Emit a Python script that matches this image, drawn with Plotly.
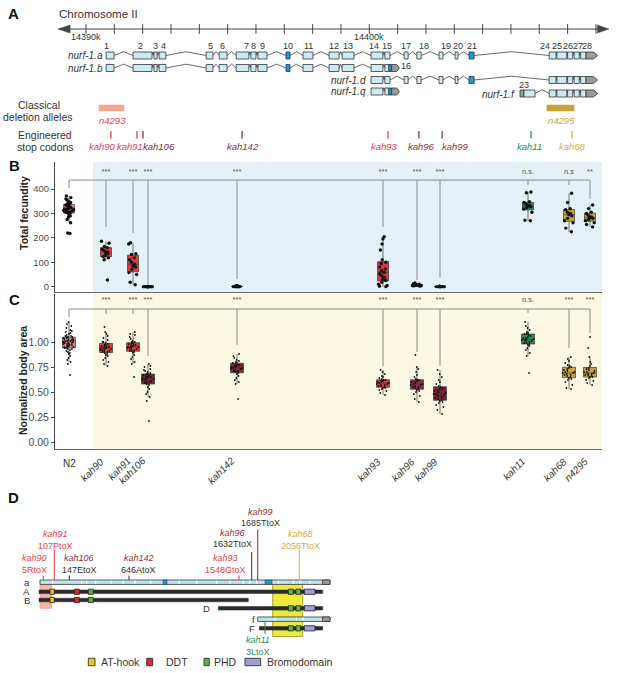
import plotly.graph_objects as go

FONT = "Liberation Sans, Arial, Helvetica, sans-serif"
DARK = "#333333"
RED = "#e8414a"
MAROON = "#8b3344"
DKMAROON = "#6b2a3a"
GOLD = "#d2ad45"
GREEN = "#2e8b57"
LIGHT = "#cdeaf2"
TEAL = "#1b9ad0"
GREY = "#9a9a9a"

# ======================= DATA =======================
# ---- Panel B / C : strains ----
strains = ["N2", "kah90", "kah91", "kah106", "kah142", "kah93", "kah96", "kah99", "kah11", "kah68", "n4295"]
strain_pos = [69, 106, 133, 148, 237, 383, 417, 440, 528, 569, 590]   # track position along gene
strain_fill = ["#e58a7f", "#e8393a", "#e63a3c", "#7b2232", "#7d2a3a", "#e5304a",
               "#8c3246", "#7a2035", "#2e8b57", "#d2a535", "#c4a33a"]

fec_N2 = [218, 220, 262, 275, 285, 290, 296, 300, 303, 305, 306, 308, 310, 312, 314, 316,
          318, 318, 320, 322, 325, 328, 331, 335, 338, 342, 345, 350, 355, 360, 365, 372]
fec_kah90 = [27, 110, 118, 123, 128, 135, 140, 142, 148, 152, 160, 165, 178, 186]
fec_kah91 = [8, 18, 50, 58, 70, 80, 85, 92, 100, 110, 118, 132, 135, 175, 180]
fec_kah106 = [0, 0, 0, 0, 0, 0, 0, 0, 0, 0, 1, 0, 0, 0, 0]
fec_kah142 = [0, 0, 0, 0, 1, 2, 3, 5, 0, 0, 2, 0, 4, 1]
fec_kah93 = [0, 2, 5, 10, 18, 25, 30, 38, 45, 52, 58, 65, 72, 80, 95, 100, 110, 150, 175, 195, 205]
fec_kah96 = [2, 3, 4, 5, 5, 6, 7, 8, 9, 10, 12, 15, 4, 6, 8]
fec_kah99 = [0, 0, 0, 1, 0, 2, 0, 1, 0, 0, 0, 1]
fec_kah11 = [270, 272, 305, 318, 322, 328, 330, 333, 338, 345, 348, 385, 388]
fec_kah68 = [225, 240, 262, 270, 280, 290, 295, 300, 305, 315, 320, 345, 383]
fec_n4295 = [245, 255, 262, 270, 275, 280, 283, 286, 292, 300, 305, 320, 335]

area_N2 = [0.67, 0.78, 0.80, 0.82, 0.84, 0.86, 0.88, 0.89, 0.90, 0.91, 0.92, 0.93, 0.93, 0.94, 0.94,
           0.95, 0.95, 0.95, 0.96, 0.96, 0.97, 0.97, 0.97, 0.98, 0.98, 0.98, 0.99, 0.99, 0.99, 1.00,
           1.00, 1.00, 1.00, 1.01, 1.01, 1.01, 1.02, 1.02, 1.02, 1.03, 1.03, 1.03, 1.04, 1.04, 1.05,
           1.05, 1.05, 1.06, 1.06, 1.07, 1.08, 1.09, 1.10, 1.11, 1.12, 1.14, 1.16, 1.18, 1.20]
area_kah90 = [0.76, 0.78, 0.80, 0.82, 0.84, 0.86, 0.87, 0.88, 0.89, 0.90, 0.90, 0.91, 0.91, 0.92,
              0.92, 0.93, 0.93, 0.94, 0.94, 0.94, 0.95, 0.95, 0.96, 0.96, 0.97, 0.97, 0.98, 0.99,
              1.00, 1.00, 1.02, 1.04, 1.06, 1.08, 1.10, 1.15]
area_kah91 = [0.65, 0.78, 0.80, 0.83, 0.85, 0.87, 0.89, 0.90, 0.91, 0.91, 0.92, 0.93, 0.93, 0.94,
              0.94, 0.95, 0.95, 0.95, 0.96, 0.96, 0.97, 0.97, 0.98, 0.98, 0.99, 1.00, 1.00, 1.01,
              1.03, 1.05, 1.07, 1.08, 1.10]
area_kah106 = [0.21, 0.41, 0.45, 0.48, 0.50, 0.53, 0.55, 0.57, 0.58, 0.59, 0.60, 0.60, 0.61, 0.62,
               0.62, 0.63, 0.63, 0.64, 0.64, 0.65, 0.65, 0.66, 0.66, 0.67, 0.68, 0.68, 0.69, 0.70,
               0.71, 0.72, 0.73, 0.75, 0.76, 0.78]
area_kah142 = [0.43, 0.58, 0.60, 0.62, 0.64, 0.66, 0.68, 0.69, 0.70, 0.71, 0.71, 0.72, 0.73, 0.73,
               0.74, 0.74, 0.75, 0.75, 0.76, 0.76, 0.77, 0.77, 0.78, 0.79, 0.79, 0.80, 0.81, 0.82,
               0.84, 0.86, 0.88]
area_kah93 = [0.47, 0.49, 0.51, 0.52, 0.53, 0.54, 0.54, 0.55, 0.56, 0.56, 0.57, 0.57, 0.58, 0.58,
              0.59, 0.59, 0.60, 0.60, 0.61, 0.61, 0.62, 0.62, 0.63, 0.64, 0.65, 0.66, 0.68, 0.70, 0.72]
area_kah96 = [0.40, 0.43, 0.46, 0.48, 0.50, 0.51, 0.52, 0.53, 0.54, 0.55, 0.55, 0.56, 0.57, 0.57,
              0.58, 0.58, 0.59, 0.60, 0.60, 0.61, 0.62, 0.62, 0.63, 0.65, 0.67, 0.70, 0.73, 0.75, 0.87]
area_kah99 = [0.28, 0.32, 0.35, 0.37, 0.39, 0.40, 0.41, 0.42, 0.43, 0.44, 0.45, 0.46, 0.47, 0.48,
              0.48, 0.49, 0.50, 0.51, 0.52, 0.53, 0.54, 0.55, 0.56, 0.58, 0.60, 0.62, 0.65, 0.68, 0.72]
area_kah11 = [0.69, 0.86, 0.89, 0.92, 0.94, 0.96, 0.97, 0.98, 0.99, 0.99, 1.00, 1.01, 1.01, 1.02,
              1.02, 1.03, 1.03, 1.04, 1.04, 1.05, 1.06, 1.07, 1.08, 1.08, 1.09, 1.10, 1.12, 1.14,
              1.16, 1.20]
area_kah68 = [0.53, 0.54, 0.57, 0.60, 0.62, 0.63, 0.64, 0.65, 0.66, 0.67, 0.67, 0.68, 0.69, 0.69,
              0.70, 0.70, 0.71, 0.72, 0.73, 0.74, 0.75, 0.76, 0.77, 0.79, 0.81, 0.83, 0.85]
area_n4295 = [0.57, 0.59, 0.61, 0.62, 0.64, 0.65, 0.65, 0.66, 0.67, 0.67, 0.68, 0.68, 0.69, 0.70,
              0.70, 0.71, 0.72, 0.73, 0.74, 0.76, 0.78, 0.80, 0.85, 0.94, 1.05]

fec_sig = ["", "***", "***", "***", "***", "***", "***", "***", "n.s.", "n.s", "**"]
area_sig = ["", "***", "***", "***", "***", "***", "***", "***", "n.s.", "***", "***"]
fec_tip = [404, 245, 220, 7, 32, 245, 27, 36, 417, 417, 360]
area_tip = [1.25, 1.28, 1.28, 0.86, 0.97, 0.76, 0.90, 0.76, 1.29, 0.94, 1.09]
fec_bracket, fec_sig_y = 437, 470
area_bracket, area_sig_y = 1.33, 1.42
fec_ticks = [0, 100, 200, 300, 400]
area_ticks = [0, 0.25, 0.5, 0.75, 1.0]

# ---- Panel A : gene model, kb relative to 14,390 kb ----
chrom_tick_kb = [0, 1, 2, 3, 4, 5, 6, 7, 8, 9, 10, 11, 12, 13, 14, 15, 16, 17, 18]
chrom_label_kb = [0, 10]
chrom_label_txt = ["14390k", "14400k"]
exon_num = [1, 2, 3, 4, 5, 6, 7, 8, 9, 10, 11, 12, 13, 14, 15, 17, 18, 19, 20, 21, 24, 25, 26, 27, 28]
exon_start = [0.71, 1.66, 2.40, 2.58, 4.24, 4.70, 5.30, 5.82, 6.07, 7.06, 7.66, 8.58, 9.04, 10.06,
              10.55, 11.23, 11.68, 12.46, 13.03, 13.52, 16.35, 16.62, 17.00, 17.23, 17.46]
exon_end = [0.99, 2.33, 2.51, 2.82, 4.48, 4.98, 5.75, 6.00, 6.39, 7.20, 8.01, 8.93, 9.46, 10.48,
            10.73, 11.37, 11.83, 12.60, 13.13, 13.70, 16.59, 16.97, 17.18, 17.41, 17.65]
exon_label_kb = [0.71, 1.93, 2.46, 2.73, 4.38, 4.83, 5.65, 5.91, 6.22, 7.14, 7.85, 8.76, 9.26, 10.18,
                 10.64, 11.30, 11.93, 12.70, 13.12, 13.61, 16.20, 16.64, 17.00, 17.36, 17.70]
coding_teal = [10, 21]
utr28 = [17.65, 17.91, 18.06]            # grey 3' UTR start, end, arrow tip
exon15s = [10.55, 10.69, 10.79, 10.97, 11.06]  # light, teal, grey, tip (isoforms b, q)
exon23 = [15.32, 15.46, 15.85]           # grey 5' part then coding
iso_names = ["nurf-1.a", "nurf-1.b", "nurf-1.d", "nurf-1.q", "nurf-1.f"]
iso_row = [55.5, 68, 80, 91.5, 93.5]
iso_label_kb = [0.64, 0.64, 9.92, 9.92, 15.18]
iso_label_row = [55.5, 68, 80, 91.5, 94]
iso_exons = [
    [1, 2, 3, 4, 5, 6, 7, 8, 9, 10, 11, 12, 13, 14, 15, 17, 18, 19, 20, 21, 24, 25, 26, 27, 28],
    [1, 2, 3, 4, 5, 6, 7, 8, 9, 10, 11, 12, 13, 14, "15s"],
    [14, 15, 17, 18, 19, 20, 21, 24, 25, 26, 27, 28],
    [14, "15s"],
    ["23", 24, 25, 26, 27, 28],
]
deletion_names = ["n4293", "n4295"]
deletion_start = [0.46, 16.27]
deletion_end = [1.34, 17.23]
deletion_label_kb = [0.92, 16.77]
deletion_color = ["#f4a593", "#c4a13a"]
deletion_text_color = [RED, "#c8a83a"]
stop_names = ["kah90", "kah91", "kah106", "kah142", "kah93", "kah96", "kah99", "kah11", "kah68"]
stop_kb = [0.88, 1.80, 2.01, 5.51, 10.66, 11.75, 12.57, 15.71, 17.16]
stop_label_kb = [0.58, 1.55, 2.58, 5.54, 10.55, 11.83, 13.03, 15.67, 17.16]
stop_color = [RED, RED, "#8b2a3a", MAROON, RED, MAROON, "#99354a", GREEN, GOLD]

# ---- Panel D : protein diagram (diagram units) ----
protein_rows = ["a", "A", "B", "D", "f", "F"]
row_label_x = [31, 31, 31, 211, 256, 256]
row_y = [582.2, 591.8, 600, 608.3, 619.2, 628.3]
bar_start = [40, 39, 39, 218.3, 257.7, 259.3]
bar_end = [330, 322.7, 248.3, 322.7, 330, 322.7]
bar_kind = ["iso", "prot", "prot", "prot", "iso", "prot"]
iso_grey_start = 322.5
a_dividers = [52.7, 81.7, 86.7, 95.7, 111, 123.3, 135, 150.7, 179.3, 196.7, 216.7, 230,
              243.3, 250, 256.7, 278.3, 293.3, 300, 310]
a_teal = [(163, 167), (265, 272)]
f_dividers = [275, 296.7, 303]
dom_names = ["AT-hook", "DDT", "PHD", "Bromodomain"]
dom_colors = ["#f2c318", "#e8242d", "#5cb447", "#9d9fd6"]
dom_A = [(50, 54.3, 0), (74.3, 79.3, 1), (88.3, 93.3, 2), (288.3, 293.3, 2), (296, 300.7, 2), (304.3, 315, 3)]
dom_B = [(50, 54.3, 0), (74.3, 79.3, 1), (88.3, 93.3, 2)]
dom_D = [(288.3, 293.3, 2), (296, 300.7, 2), (304.3, 315, 3)]
mut_name = ["kah90", "kah91", "kah106", "kah142", "kah93", "kah96", "kah99", "kah68", "kah11"]
mut_change = ["5RtoX", "107PtoX", "147EtoX", "646AtoX", "1548GtoX", "1632TtoX", "1685TtoX", "2056TtoX", "3LtoX"]
mut_stem_x = [43.3, 54.3, 69.3, 129, 239, 251.7, 257.7, 299.3, 265]
mut_stem_y0 = [576, 550, 575.5, 575.5, 575.5, 552, 529.5, 550, 621]
mut_stem_y1 = [580, 580, 580, 580, 580, 580, 580, 580, 634]
mut_label_x = [34.5, 55, 79, 138.5, 225, 232.5, 260, 300, 258]
mut_label_y = [558, 534.3, 558, 558, 558, 533.3, 511.7, 534.3, 640]
mut_line_gap = [12, 12, 12, 12, 12, 10.5, 11.3, 12, 11.5]
mut_name_color = [RED, RED, MAROON, MAROON, RED, MAROON, MAROON, GOLD, GREEN]
mut_change_color = [RED, RED, DARK, DARK, RED, DARK, DARK, GOLD, GREEN]
mut_stem_color = [RED, RED, DKMAROON, DKMAROON, RED, DKMAROON, MAROON, "#d8b84a", GREEN]

# ======================= FIGURE =======================
fig = go.Figure()
shapes, annos = [], []


def rect(xref, x0, x1, y0, y1, fill, line=DARK, lw=0.8, layer="above", yref="y3"):
    shapes.append(dict(type="rect", xref=xref, yref=yref, x0=x0, x1=x1, y0=y0, y1=y1,
                       fillcolor=fill, line=dict(color=line, width=lw), layer=layer))


def path(xref, d, fill, line=DARK, lw=0.8):
    shapes.append(dict(type="path", xref=xref, yref="y3", path=d, fillcolor=fill,
                       line=dict(color=line, width=lw)))


def line(xref, x0, x1, y0, y1, color=DARK, lw=1, yref="y3"):
    shapes.append(dict(type="line", xref=xref, yref=yref, x0=x0, x1=x1, y0=y0, y1=y1,
                       line=dict(color=color, width=lw)))


def text(x, y, s, xref="x4", yref="y3", size=10, color=DARK, xanchor="center", yanchor="middle", angle=0):
    annos.append(dict(x=x, y=y, xref=xref, yref=yref, text=s, showarrow=False, textangle=angle,
                      font=dict(family=FONT, size=size, color=color), xanchor=xanchor,
                      yanchor=yanchor, borderpad=0))


# anchor traces for overlay axes
fig.add_trace(go.Scatter(x=[0], y=[0], xaxis="x3", yaxis="y3", mode="markers",
                         marker=dict(opacity=0), showlegend=False, hoverinfo="skip"))
fig.add_trace(go.Scatter(x=[0], y=[0], xaxis="x4", yaxis="y3", mode="markers",
                         marker=dict(opacity=0), showlegend=False, hoverinfo="skip"))

# ---------------- Panel A ----------------
text(7, 13, "<b>A</b>", size=15, color="#111", xanchor="left")
text(58, 13.5, "Chromosome II", size=11.5, xanchor="left")
line("x3", -0.95, 18.3, 29, 29, color="#444", lw=1.2)
path("x3", "M -0.99,29 L -0.56,25 L -0.56,33 Z", "#444", line="#444", lw=0.5)
path("x3", "M 18.46,29 L 18.05,25 L 18.05,33 Z", "#444", line="#444", lw=0.5)
fig.add_trace(go.Scatter(x=chrom_tick_kb, y=[29] * len(chrom_tick_kb), xaxis="x3", yaxis="y3",
                         mode="markers", marker=dict(symbol="line-ns", size=7,
                                                     line=dict(color="#444", width=1)),
                         showlegend=False, hoverinfo="skip"))
for k, t in zip(chrom_label_kb, chrom_label_txt):
    text(k, 36.5, t, xref="x3", size=9)
for n, lk in zip(exon_num, exon_label_kb):
    text(lk, 45.5, str(n), xref="x3", size=9)

H = 3.5
ex_idx = {n: i for i, n in enumerate(exon_num)}


def exon_extent(e):
    if e == "15s":
        return exon15s[0], exon15s[4]
    if e == "23":
        return exon23[0], exon23[2]
    if e == 28:
        return exon_start[ex_idx[28]], utr28[2]
    i = ex_idx[e]
    return exon_start[i], exon_end[i]


for iso, y, exons in zip(iso_names, iso_row, iso_exons):
    ix, iy = [], []
    for e1, e2 in zip(exons[:-1], exons[1:]):
        a = exon_extent(e1)[1]
        b = exon_extent(e2)[0]
        ix += [a, (a + b) / 2, b, None]
        iy += [y, y - 3.8, y, None]
    fig.add_trace(go.Scatter(x=ix, y=iy, xaxis="x3", yaxis="y3", mode="lines",
                             line=dict(color="#444", width=0.8), showlegend=False, hoverinfo="skip"))
    for e in exons:
        if e == "15s":
            rect("x3", exon15s[0], exon15s[1], y - H, y + H, LIGHT)
            rect("x3", exon15s[1], exon15s[2], y - H, y + H, TEAL)
            path("x3", f"M {exon15s[2]},{y-H} L {exon15s[3]},{y-H} L {exon15s[4]},{y} "
                       f"L {exon15s[3]},{y+H} L {exon15s[2]},{y+H} Z", GREY)
        elif e == "23":
            rect("x3", exon23[0], exon23[1], y - H, y + H, GREY)
            rect("x3", exon23[1], exon23[2], y - H, y + H, LIGHT)
        elif e == 28:
            i = ex_idx[28]
            rect("x3", exon_start[i], exon_end[i], y - H, y + H, LIGHT)
            path("x3", f"M {utr28[0]},{y-H} L {utr28[1]},{y-H} L {utr28[2]},{y} "
                       f"L {utr28[1]},{y+H} L {utr28[0]},{y+H} Z", GREY)
        else:
            i = ex_idx[e]
            rect("x3", exon_start[i], exon_end[i], y - H, y + H, TEAL if e in coding_teal else LIGHT)

for iso, lk, ly in zip(iso_names, iso_label_kb, iso_label_row):
    text(lk, ly, f"<i>{iso}</i>", xref="x3", size=10, xanchor="right")
text(11.28, 66, "16", xref="x3", size=9)
text(15.46, 85, "23", xref="x3", size=9)

text(39, 104.5, "Classical", size=10.5)
text(37, 117, "deletion alleles", size=10.5)
text(45, 134.5, "Engineered", size=10.5)
text(45, 146.5, "stop codons", size=10.5)
for nm, s0, s1, lk, c, tc in zip(deletion_names, deletion_start, deletion_end, deletion_label_kb,
                                 deletion_color, deletion_text_color):
    rect("x3", s0, s1, 105, 111, c, line=c, lw=0.5)
    text(lk, 120.5, f"<i>{nm}</i>", xref="x3", size=9.5, color=tc)
for nm, k, lk, c in zip(stop_names, stop_kb, stop_label_kb, stop_color):
    line("x3", k, k, 131, 138.5, color=c, lw=1.3)
    text(lk, 146.5, f"<i>{nm}</i>", xref="x3", size=9.5, color=c)

# ---------------- Panels B & C ----------------
fec_values = [fec_N2, fec_kah90, fec_kah91, fec_kah106, fec_kah142, fec_kah93, fec_kah96,
              fec_kah99, fec_kah11, fec_kah68, fec_n4295]
area_values = [area_N2, area_kah90, area_kah91, area_kah106, area_kah142, area_kah93, area_kah96,
               area_kah99, area_kah11, area_kah68, area_n4295]

shapes.append(dict(type="rect", xref="x", yref="y domain", x0=93, x1=602, y0=0, y1=1,
                   fillcolor="#e4f2f8", line=dict(width=0), layer="below"))
shapes.append(dict(type="rect", xref="x2", yref="y2 domain", x0=93, x1=602, y0=0, y1=1,
                   fillcolor="#faf7e2", line=dict(width=0), layer="below"))

for vals, xa, ya, bw, ms, tips, br, sig, sy in [
        (fec_values, "x", "y", 11, 3.4, fec_tip, fec_bracket, fec_sig, fec_sig_y),
        (area_values, "x2", "y2", 13, 1.8, area_tip, area_bracket, area_sig, area_sig_y)]:
    bx = [strain_pos[0], strain_pos[-1], None]
    by = [br, br, None]
    for p, t in zip(strain_pos, tips):
        bx += [p, p, None]
        by += [br, t, None]
    fig.add_trace(go.Scatter(x=bx, y=by, xaxis=xa, yaxis=ya, mode="lines",
                             line=dict(color="#8a8a8a", width=1), showlegend=False, hoverinfo="skip"))
    for i, s in enumerate(strains):
        fig.add_trace(go.Box(x=[strain_pos[i]] * len(vals[i]), y=vals[i], xaxis=xa, yaxis=ya,
                             name=s, boxpoints="all", jitter=1, pointpos=0, width=bw,
                             fillcolor=strain_fill[i], line=dict(color="#3a3a3a", width=0.7),
                             marker=dict(color="#111", size=ms), whiskerwidth=0,
                             showlegend=False, hoverinfo="skip"))
    fig.add_trace(go.Scatter(x=strain_pos, y=[sy] * len(strain_pos), text=sig, xaxis=xa, yaxis=ya,
                             mode="text", textfont=dict(family=FONT, size=7.5, color="#555"),
                             showlegend=False, hoverinfo="skip"))

text(8, 165, "<b>B</b>", size=15, color="#111", xanchor="left")
text(8, 299, "<b>C</b>", size=15, color="#111", xanchor="left")
text(24, 213, "<b>Total fecundity</b>", size=10.5, color="#222", angle=-90)
text(23, 381, "<b>Normalized body area</b>", size=10.5, color="#222", angle=-90)

for i, (s, p) in enumerate(zip(strains, strain_pos)):
    if s == "N2":
        text(p, 463, s, xref="x2", size=10)
    else:
        text(p + 1.5, 454, f"<i>{s}</i>", xref="x2", size=10, xanchor="right", yanchor="top", angle=-45)

# ---------------- Panel D ----------------
text(7, 497, "<b>D</b>", size=15, color="#111", xanchor="left")
rect("x4", 272.7, 302.7, 584.3, 636.5, "#efe93a", line="#8f8d2a", lw=0.8)
rect("x4", 40, 51.7, 584.5, 608.3, "#f4b6a4", line="#e59a88", lw=0.6)

for r, lx, y, x0, x1, kind in zip(protein_rows, row_label_x, row_y, bar_start, bar_end, bar_kind):
    text(lx, y, r, size=9.5, xanchor="right")
    if kind == "iso":
        rect("x4", x0, x1, y - 2.2, y + 2.2, "#bfe4f2", line=DARK, lw=0.8)
        rect("x4", iso_grey_start, x1, y - 2.2, y + 2.2, GREY, line=DARK, lw=0.8)
        divs = a_dividers if r == "a" else f_dividers
        if r == "a":
            for t0, t1 in a_teal:
                rect("x4", t0, t1, y - 2.2, y + 2.2, TEAL, line=DARK, lw=0.5)
        for d in divs:
            line("x4", d, d, y - 1.6, y + 1.6, color="#ffffff", lw=1.2)
    else:
        rect("x4", x0, x1, y - 1.8, y + 1.8, "#2b2b2b", line="#2b2b2b", lw=0.5)

for r, doms in [("A", dom_A), ("B", dom_B), ("D", dom_D), ("F", dom_D)]:
    y = row_y[protein_rows.index(r)]
    for d0, d1, k in doms:
        rect("x4", d0, d1, y - 2.6, y + 2.6, dom_colors[k], line="#222", lw=0.8)

for nm, ch, sx, y0, y1, lx, ly, gap, nc, cc, sc in zip(
        mut_name, mut_change, mut_stem_x, mut_stem_y0, mut_stem_y1, mut_label_x, mut_label_y,
        mut_line_gap, mut_name_color, mut_change_color, mut_stem_color):
    line("x4", sx, sx, y0, y1, color=sc, lw=1.1)
    text(lx, ly, f"<i>{nm}</i>", size=9, color=nc)
    text(lx, ly + gap, ch, size=9, color=cc)

legend_box = [(88.3, 95), (146.7, 152.7), (204, 209.3), (245, 260.7)]
legend_text_x = [100, 165, 213.3, 265.7]
for (b0, b1), tx, nm, c in zip(legend_box, legend_text_x, dom_names, dom_colors):
    rect("x4", b0, b1, 658.3, 665.7, c, line="#222", lw=0.8)
    text(tx, 662, nm, size=10.5, xanchor="left")

# ---------------- Layout ----------------
W, Hh = 617, 673
fig.update_layout(
    width=W, height=Hh, margin=dict(l=0, r=0, t=0, b=0),
    paper_bgcolor="white", plot_bgcolor="rgba(0,0,0,0)",
    font=dict(family=FONT, color=DARK), showlegend=False, boxmode="overlay",
    xaxis=dict(domain=[55 / W, 602 / W], range=[55, 602], showticklabels=False, ticks="",
               showline=True, linecolor="#666", linewidth=1, showgrid=False, zeroline=False,
               anchor="y"),
    yaxis=dict(domain=[1 - 292 / Hh, 1 - 162 / Hh], range=[-22, 511], tickvals=fec_ticks,
               ticks="outside", ticklen=3, tickcolor="#444", showline=True, linecolor="#444",
               linewidth=1, showgrid=False, zeroline=False, anchor="x",
               tickfont=dict(family=FONT, size=9.5, color="#4d4d4d")),
    xaxis2=dict(domain=[55 / W, 602 / W], range=[55, 602], showticklabels=False, ticks="",
                showline=True, linecolor="#666", linewidth=1, showgrid=False, zeroline=False,
                anchor="y2"),
    yaxis2=dict(domain=[1 - 449 / Hh, 1 - 294 / Hh], range=[-0.07, 1.48], tickvals=area_ticks,
                ticktext=["0.00", "0.25", "0.50", "0.75", "1.00"], ticks="outside", ticklen=3,
                tickcolor="#444", showline=True, linecolor="#444", linewidth=1, showgrid=False,
                zeroline=False, anchor="x2", tickfont=dict(family=FONT, size=10.5, color="#4d4d4d")),
    xaxis3=dict(domain=[0, 1], range=[-86 / 28.33, 531 / 28.33], visible=False, anchor="y3",
                fixedrange=True),
    yaxis3=dict(domain=[0, 1], range=[673, 0], visible=False, anchor="x3", fixedrange=True),
    xaxis4=dict(domain=[0, 1], range=[0, 617], visible=False, anchor="y3", overlaying="x3",
                fixedrange=True),
    shapes=shapes, annotations=annos,
)

fig.write_html("out.html", config={"displayModeBar": False},
               post_script="document.body.style.margin='0px';document.body.style.padding='0px';"
                           "document.documentElement.style.overflow='hidden';")
